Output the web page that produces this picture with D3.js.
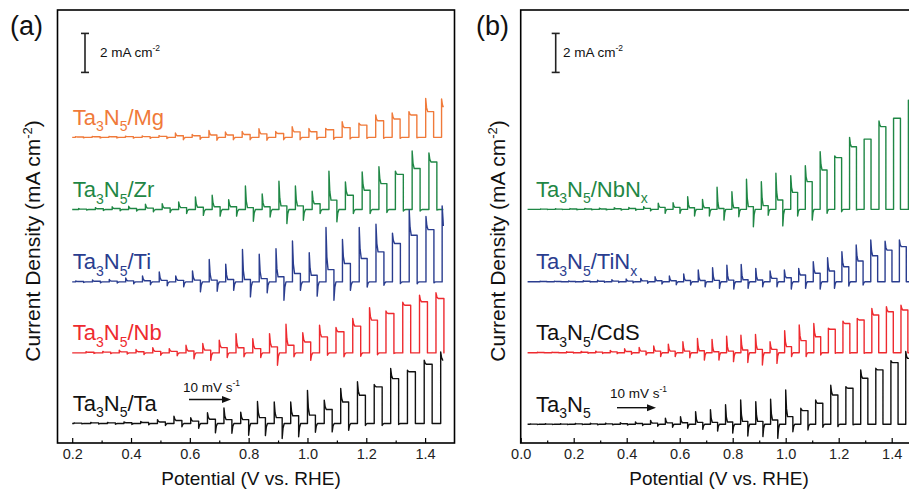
<!DOCTYPE html>
<html>
<head>
<meta charset="utf-8">
<script src="https://cdn.jsdelivr.net/npm/d3@7"></script>
<style>
  body { margin: 0; background: #fff; }
  text { font-family: "Liberation Sans", Arial, sans-serif; }
</style>
</head>
<body>
<div id="my_dataviz"></div>
<script>
// values: potential in V vs. RHE, current density in mA cm-2
// each chop = light-on potential, on-spike, light plateau, off-dip (relative to dark current)

// ---- panel (a) ----
var mgOn    = [0.211, 0.268, 0.325, 0.381, 0.438, 0.495, 0.551, 0.608, 0.665, 0.721, 0.778, 0.835, 0.892, 0.948, 1.005, 1.062, 1.118, 1.175, 1.232, 1.288, 1.345, 1.402, 1.456];
var mgSpike = [0.03, 0.05, 0.05, 0.06, 0.07, 0.09, 0.22, 0.15, 0.35, 0.28, 0.30, 0.45, 0.30, 0.55, 0.46, 0.46, 0.80, 0.73, 1.15, 1.25, 1.32, 2.00, 1.97];
var mgPlat  = [0.02, 0.03, 0.03, 0.04, 0.04, 0.05, 0.08, 0.08, 0.12, 0.12, 0.15, 0.18, 0.20, 0.28, 0.29, 0.39, 0.50, 0.63, 0.85, 0.94, 1.15, 1.32, 1.54];
var mgDip   = [-0.02, -0.03, -0.03, -0.04, -0.05, -0.06, -0.12, -0.10, -0.15, -0.12, -0.12, -0.15, -0.12, -0.12, -0.10, -0.10, -0.08, -0.05, -0.05, -0.05, -0.02, 0, 0];

var zrOn    = [0.222, 0.279, 0.336, 0.392, 0.449, 0.506, 0.562, 0.619, 0.676, 0.732, 0.789, 0.846, 0.903, 0.959, 1.016, 1.073, 1.129, 1.186, 1.243, 1.299, 1.356, 1.413];
var zrSpike = [0.05, 0.10, 0.14, 0.17, 0.27, 0.30, 0.39, 0.65, 0.73, 0.51, 1.21, 0.80, 1.45, 1.21, 0.94, 1.97, 1.42, 1.93, 2.19, 1.97, 3.00, 2.90];
var zrPlat  = [0.02, 0.04, 0.05, 0.05, 0.07, 0.08, 0.10, 0.12, 0.14, 0.14, 0.10, 0.14, 0.19, 0.19, 0.30, 0.48, 0.73, 0.99, 1.33, 1.80, 2.10, 2.44];
var zrDip   = [-0.03, -0.05, -0.06, -0.08, -0.12, -0.15, -0.20, -0.30, -0.34, -0.34, -0.60, -0.38, -0.72, -0.55, -0.20, -0.63, -0.20, -0.20, -0.15, -0.08, -0.08, -0.03];

var tiOn    = [0.212, 0.269, 0.326, 0.382, 0.439, 0.496, 0.552, 0.609, 0.666, 0.722, 0.779, 0.836, 0.893, 0.949, 1.006, 1.063, 1.119, 1.176, 1.233, 1.289, 1.346, 1.403, 1.458];
var tiSpike = [0.05, 0.10, 0.12, 0.20, 0.30, 0.51, 0.30, 0.56, 1.15, 0.91, 1.66, 1.42, 1.70, 2.10, 1.50, 2.79, 2.17, 2.79, 2.96, 2.50, 3.69, 3.35, 3.90];
var tiPlat  = [0.02, 0.03, 0.04, 0.05, 0.06, 0.08, 0.08, 0.09, 0.09, 0.12, 0.12, 0.17, 0.26, 0.43, 0.34, 0.63, 0.94, 1.20, 1.54, 1.97, 2.39, 2.68, 2.87];
var tiDip   = [-0.03, -0.05, -0.06, -0.10, -0.15, -0.20, -0.25, -0.51, -0.48, -0.43, -0.77, -0.56, -0.94, -0.43, -0.73, -0.94, -0.43, -0.26, -0.17, -0.09, -0.10, -0.05, 0];

var nbOn    = [0.247, 0.304, 0.360, 0.417, 0.474, 0.530, 0.587, 0.644, 0.700, 0.757, 0.814, 0.871, 0.927, 0.984, 1.041, 1.097, 1.154, 1.211, 1.267, 1.324, 1.381, 1.437];
var nbSpike = [0.06, 0.08, 0.14, 0.17, 0.27, 0.22, 0.39, 0.48, 0.65, 0.99, 0.73, 0.99, 1.47, 1.03, 1.42, 1.30, 1.76, 2.32, 2.15, 2.60, 2.96, 3.08];
var nbPlat  = [0.03, 0.04, 0.05, 0.06, 0.08, 0.08, 0.10, 0.14, 0.27, 0.26, 0.22, 0.31, 0.39, 0.56, 0.82, 1.08, 1.37, 1.68, 2.02, 2.44, 2.62, 2.79];
var nbDip   = [-0.03, -0.04, -0.06, -0.08, -0.12, -0.15, -0.30, -0.38, -0.24, -0.20, -0.24, -0.63, -0.20, -0.38, -0.12, -0.20, -0.17, -0.10, -0.03, 0, 0, 0];

var taOn    = [0.206, 0.263, 0.320, 0.376, 0.433, 0.490, 0.546, 0.603, 0.660, 0.716, 0.773, 0.830, 0.887, 0.943, 1.000, 1.057, 1.113, 1.170, 1.227, 1.283, 1.340, 1.397, 1.453];
var taSpike = [0.03, 0.05, 0.06, 0.08, 0.10, 0.20, 0.37, 0.30, 0.55, 0.80, 0.58, 1.13, 1.10, 1.10, 1.70, 1.20, 1.80, 2.14, 2.00, 2.82, 2.73, 3.25, 3.67];
var taPlat  = [0.02, 0.03, 0.03, 0.04, 0.05, 0.08, 0.15, 0.12, 0.22, 0.20, 0.20, 0.30, 0.30, 0.40, 0.43, 0.72, 1.10, 1.45, 1.88, 2.30, 2.65, 3.04, 3.25];
var taDip   = [-0.02, -0.03, -0.04, -0.05, -0.07, -0.10, -0.17, -0.25, -0.48, -0.50, -0.60, -0.62, -0.77, -0.68, -0.45, -0.43, -0.35, -0.10, -0.10, -0.05, 0, 0, 0];

// ---- panel (b) ----
var nbnOn    = [0.075, 0.131, 0.186, 0.242, 0.297, 0.353, 0.408, 0.464, 0.519, 0.575, 0.630, 0.686, 0.741, 0.797, 0.852, 0.908, 0.963, 1.019, 1.074, 1.130, 1.185, 1.241, 1.296, 1.352, 1.407, 1.463];
var nbnSpike = [0.02, 0.03, 0.04, 0.05, 0.06, 0.08, 0.10, 0.14, 0.31, 0.34, 0.65, 0.51, 1.13, 0.90, 1.54, 1.42, 1.85, 1.73, 2.24, 2.96, 2.74, 3.69, 3.60, 4.53, 4.67, 5.60];
var nbnPlat  = [0.01, 0.01, 0.02, 0.02, 0.02, 0.03, 0.04, 0.05, 0.10, 0.10, 0.08, 0.08, 0.04, 0.08, 0.14, 0.19, 0.48, 0.87, 1.42, 2.02, 2.65, 3.21, 3.60, 4.24, 4.67, 5.15];
var nbnDip   = [-0.01, -0.01, -0.02, -0.02, -0.03, -0.04, -0.05, -0.08, -0.20, -0.20, -0.34, -0.34, -0.55, -0.38, -0.89, -0.30, -0.85, -0.34, -0.55, -0.20, -0.12, -0.03, 0, 0, 0, 0];

var tinOn    = [0.073, 0.127, 0.181, 0.236, 0.290, 0.344, 0.398, 0.453, 0.507, 0.561, 0.615, 0.670, 0.724, 0.778, 0.832, 0.887, 0.941, 0.995, 1.049, 1.104, 1.158, 1.212, 1.266, 1.321, 1.375, 1.429];
var tinSpike = [0.02, 0.03, 0.04, 0.05, 0.08, 0.10, 0.14, 0.17, 0.25, 0.29, 0.40, 0.60, 0.72, 0.85, 0.89, 0.68, 0.55, 0.60, 0.68, 1.03, 1.23, 1.54, 1.88, 2.14, 2.08, 2.14];
var tinPlat  = [0.01, 0.01, 0.01, 0.02, 0.02, 0.03, 0.03, 0.04, 0.05, 0.05, 0.06, 0.06, 0.07, 0.08, 0.10, 0.09, 0.17, 0.20, 0.34, 0.43, 0.55, 0.77, 1.06, 1.33, 1.62, 1.80];
var tinDip   = [-0.01, -0.01, -0.02, -0.02, -0.03, -0.04, -0.06, -0.08, -0.12, -0.16, -0.17, -0.26, -0.34, -0.38, -0.34, -0.26, -0.26, -0.38, -0.34, -0.38, -0.34, -0.22, -0.17, 0, 0, 0];

var cdsOn    = [0.063, 0.118, 0.173, 0.228, 0.283, 0.338, 0.392, 0.447, 0.502, 0.557, 0.612, 0.667, 0.722, 0.777, 0.831, 0.886, 0.941, 0.996, 1.051, 1.106, 1.161, 1.216, 1.270, 1.325, 1.380, 1.435];
var cdsSpike = [0.02, 0.03, 0.05, 0.07, 0.08, 0.12, 0.20, 0.27, 0.34, 0.44, 0.56, 0.73, 0.68, 0.85, 0.90, 0.94, 0.56, 1.13, 1.42, 1.50, 1.25, 1.62, 1.76, 2.27, 2.36, 2.44];
var cdsPlat  = [0.01, 0.01, 0.02, 0.02, 0.03, 0.04, 0.06, 0.08, 0.08, 0.08, 0.08, 0.10, 0.05, 0.08, 0.14, 0.17, 0.17, 0.31, 0.62, 0.82, 1.20, 1.50, 1.68, 1.93, 2.10, 2.19];
var cdsDip   = [-0.01, -0.01, -0.02, -0.03, -0.04, -0.05, -0.08, -0.12, -0.20, -0.20, -0.26, -0.38, -0.38, -0.46, -0.50, -0.63, -0.55, -0.20, -0.20, -0.12, -0.03, -0.03, -0.03, 0, 0, 0];

var t5On    = [0.036, 0.093, 0.150, 0.206, 0.263, 0.320, 0.376, 0.433, 0.490, 0.546, 0.603, 0.660, 0.716, 0.773, 0.830, 0.887, 0.943, 1.000, 1.057, 1.113, 1.170, 1.227, 1.283, 1.340, 1.397, 1.453];
var t5Spike = [0.02, 0.03, 0.03, 0.04, 0.05, 0.06, 0.08, 0.12, 0.20, 0.31, 0.39, 0.65, 0.75, 1.00, 1.25, 1.16, 1.28, 1.76, 0.82, 1.25, 2.00, 1.93, 2.79, 2.87, 3.26, 3.73];
var t5Plat  = [0.01, 0.01, 0.01, 0.02, 0.02, 0.02, 0.03, 0.04, 0.06, 0.07, 0.08, 0.10, 0.10, 0.12, 0.15, 0.15, 0.22, 0.39, 0.70, 1.08, 1.50, 1.85, 2.36, 2.79, 3.16, 3.38];
var t5Dip   = [-0.01, -0.01, -0.02, -0.02, -0.03, -0.03, -0.04, -0.06, -0.10, -0.15, -0.20, -0.26, -0.35, -0.45, -0.60, -0.63, -0.72, -0.38, -0.29, -0.15, -0.12, -0.03, 0, 0, 0, 0];

// axis ticks
var majorA = [0.2, 0.4, 0.6, 0.8, 1.0, 1.2, 1.4];
var minorA = [0.3, 0.5, 0.7, 0.9, 1.1, 1.3];
var majorB = [0.0, 0.2, 0.4, 0.6, 0.8, 1.0, 1.2, 1.4];
var minorB = [0.1, 0.3, 0.5, 0.7, 0.9, 1.1, 1.3];

// colours
var cOrange = "#f07a3a", cGreen = "#1f8745", cBlue = "#2a3d8f", cRed = "#ee2a2f", cBlack = "#111";

// curve tables (offset = vertical stacking in mA cm-2)
var curvesA = [
  {on: mgOn, spike: mgSpike, plat: mgPlat, dip: mgDip, offset: 14.67, color: cOrange, labelColor: cOrange, start: 0.2, end: 1.462, lit: 0.027, label: [["Ta",0],["3",1],["N",0],["5",1],["/Mg",0]]},
  {on: zrOn, spike: zrSpike, plat: zrPlat, dip: zrDip, offset: 10.97, color: cGreen, labelColor: cGreen, start: 0.2, end: 1.462, lit: 0.027, label: [["Ta",0],["3",1],["N",0],["5",1],["/Zr",0]]},
  {on: tiOn, spike: tiSpike, plat: tiPlat, dip: tiDip, offset: 7.26, color: cBlue, labelColor: cBlue, start: 0.2, end: 1.462, lit: 0.027, label: [["Ta",0],["3",1],["N",0],["5",1],["/Ti",0]]},
  {on: nbOn, spike: nbSpike, plat: nbPlat, dip: nbDip, offset: 3.62, color: cRed, labelColor: cRed, start: 0.2, end: 1.466, lit: 0.027, label: [["Ta",0],["3",1],["N",0],["5",1],["/Nb",0]]},
  {on: taOn, spike: taSpike, plat: taPlat, dip: taDip, offset: 0, color: cBlack, labelColor: cBlack, start: 0.2, end: 1.462, lit: 0.027, label: [["Ta",0],["3",1],["N",0],["5",1],["/Ta",0]]}
];
var curvesB = [
  {on: nbnOn, spike: nbnSpike, plat: nbnPlat, dip: nbnDip, offset: 10.98, color: cGreen, labelColor: cGreen, start: 0.026, end: 1.5, lit: 0.026, label: [["Ta",0],["3",1],["N",0],["5",1],["/NbN",0],["x",1]]},
  {on: tinOn, spike: tinSpike, plat: tinPlat, dip: tinDip, offset: 7.27, color: cBlue, labelColor: cBlue, start: 0.026, end: 1.5, lit: 0.026, label: [["Ta",0],["3",1],["N",0],["5",1],["/TiN",0],["x",1]]},
  {on: cdsOn, spike: cdsSpike, plat: cdsPlat, dip: cdsDip, offset: 3.63, color: cRed, labelColor: cBlack, start: 0.026, end: 1.5, lit: 0.026, label: [["Ta",0],["3",1],["N",0],["5",1],["/CdS",0]]},
  {on: t5On, spike: t5Spike, plat: t5Plat, dip: t5Dip, offset: -0.04, color: cBlack, labelColor: cBlack, start: 0.026, end: 1.5, lit: 0.027, label: [["Ta",0],["3",1],["N",0],["5",1]]}
];

var width = 909, height = 492;

var svg = d3.select("#my_dataviz")
  .append("svg")
    .attr("width", width)
    .attr("height", height);

// shared current-density scale (2 mA cm-2 = 39 px)
var y = d3.scaleLinear().domain([-1, 21.2]).range([443, 10]);

// turn a chopped-light record into polyline vertices
function chopTrace(c) {
  var pts = [[c.start, 0]];
  for (var i = 0; i < c.on.length; i++) {
    var t0 = c.on[i];
    if (t0 < c.start || t0 >= c.end) continue;
    var s = c.spike[i], p = c.plat[i], d = c.dip[i];
    pts.push([t0, 0], [t0, s], [t0 + 0.003, p + (s - p) * 0.3], [t0 + 0.007, p]);
    var t1 = t0 + c.lit;
    if (t1 >= c.end) { pts.push([c.end, p]); return clampEnd(pts, c.end); }
    pts.push([t1, p], [t1, d], [t1 + 0.003, d * 0.3], [t1 + 0.007, 0]);
  }
  pts.push([c.end, 0]);
  return clampEnd(pts, c.end);
}
function clampEnd(pts, e) {
  return pts.map(function(q) { return [Math.min(q[0], e), q[1]]; });
}

function addText(g, x, yb, parts, color, big, small, drop) {
  var t = g.append("text").attr("x", x).attr("y", yb).attr("fill", color).style("font-size", big + "px");
  var shift = 0;
  parts.forEach(function(p) {
    var want = p[1] ? drop : 0;
    t.append("tspan").attr("dy", want - shift).style("font-size", (p[1] ? small : big) + "px").text(p[0]);
    shift = want;
  });
  return t;
}

function drawPanel(opt) {
  var x = d3.scaleLinear().domain(opt.domain).range(opt.range);
  var g = svg.append("g");

  // chopped LSV traces
  var line = d3.line()
    .x(function(d) { return x(d[0]); })
    .y(function(d) { return y(d[1]); });

  opt.curves.forEach(function(c) {
    var pts = chopTrace(c).map(function(q) { return [q[0], q[1] + c.offset]; });
    g.append("path")
      .datum(pts)
      .attr("d", line)
      .attr("fill", "none")
      .attr("stroke", c.color)
      .attr("stroke-width", 1.4)
      .attr("stroke-linejoin", "round");
    addText(g, opt.labelX, y(c.offset) - 12.5, c.label, c.labelColor, 22, 14, 6.5);
  });

  // frame
  g.append("rect")
    .attr("x", opt.range[0]).attr("y", y.range()[1])
    .attr("width", opt.range[1] - opt.range[0])
    .attr("height", y.range()[0] - y.range()[1])
    .attr("fill", "none").attr("stroke", "#000").attr("stroke-width", 1.6);

  // bottom axis, ticks pointing inwards
  var ax = g.append("g")
    .attr("transform", "translate(0," + y.range()[0] + ")")
    .call(d3.axisBottom(x).tickValues(opt.major).tickSize(-5).tickPadding(6).tickFormat(d3.format(".1f")));
  ax.select(".domain").remove();
  ax.selectAll("line").attr("stroke", "#000").attr("stroke-width", 1.2);
  ax.selectAll("text").attr("fill", "#222").style("font-size", "14.5px")
    .style("font-family", "'Liberation Sans', Arial, sans-serif");
  var mx = g.append("g")
    .attr("transform", "translate(0," + y.range()[0] + ")")
    .call(d3.axisBottom(x).tickValues(opt.minor).tickSize(-2.5).tickFormat(""));
  mx.select(".domain").remove();
  mx.selectAll("line").attr("stroke", "#000").attr("stroke-width", 1.2);

  // axis titles
  g.append("text")
    .attr("x", opt.xTitleX).attr("y", 485)
    .attr("text-anchor", "middle").style("font-size", "19px").attr("fill", "#111")
    .text("Potential (V vs. RHE)");
  var yt = g.append("text")
    .attr("transform", "translate(" + opt.yTitleX + ",241) rotate(-90)")
    .attr("text-anchor", "middle").style("font-size", "21px").attr("fill", "#111");
  yt.append("tspan").text("Current Density (mA cm");
  yt.append("tspan").attr("dy", -8).style("font-size", "13px").text("-2");
  yt.append("tspan").attr("dy", 8).text(")");

  // panel letter
  g.append("text").attr("x", opt.letterX).attr("y", 34.5)
    .style("font-size", "27px").attr("fill", "#111").text(opt.letter);

  // 2 mA cm-2 scale bar
  var bx = opt.barX, b0 = y(18), b1 = y(20);
  g.append("line").attr("x1", bx).attr("x2", bx).attr("y1", b0).attr("y2", b1)
    .attr("stroke", "#222").attr("stroke-width", 1.6);
  [b0, b1].forEach(function(v) {
    g.append("line").attr("x1", bx - 4).attr("x2", bx + 4).attr("y1", v).attr("y2", v)
      .attr("stroke", "#222").attr("stroke-width", 1.6);
  });
  var st = g.append("text").attr("x", opt.barTextX).attr("y", 56.7)
    .style("font-size", "13.5px").attr("fill", "#111");
  st.append("tspan").text("2 mA cm");
  st.append("tspan").attr("dy", -6).style("font-size", "8.5px").text("-2");

  // scan direction arrow
  var a = opt.arrow;
  var sr = g.append("text").attr("x", a.tx).attr("y", a.ty)
    .style("font-size", "13.5px").attr("fill", "#111");
  sr.append("tspan").text("10 mV s");
  sr.append("tspan").attr("dy", -6).style("font-size", "8.5px").text("-1");
  g.append("line").attr("x1", a.x0).attr("x2", a.x1 - 7).attr("y1", a.y).attr("y2", a.y)
    .attr("stroke", "#111").attr("stroke-width", 1.4);
  g.append("path")
    .attr("d", "M" + a.x1 + "," + a.y + "L" + (a.x1 - 9) + "," + (a.y - 3.5) + "L" + (a.x1 - 9) + "," + (a.y + 3.5) + "Z")
    .attr("fill", "#111");
}

drawPanel({
  domain: [0.15, 1.5], range: [57.5, 454.5], curves: curvesA,
  major: majorA, minor: minorA, labelX: 72.7, xTitleX: 251, yTitleX: 39.5,
  letter: "(a)", letterX: 10, barX: 85, barTextX: 100,
  arrow: {tx: 183, ty: 391.5, x0: 189, x1: 231, y: 399.5}
});
drawPanel({
  domain: [0, 1.5], range: [520.7, 918.2], curves: curvesB,
  major: majorB, minor: minorB, labelX: 536, xTitleX: 719, yTitleX: 505,
  letter: "(b)", letterX: 476, barX: 555.7, barTextX: 563,
  arrow: {tx: 610, ty: 398, x0: 617, x1: 656, y: 407.7}
});
</script>
</body>
</html>
